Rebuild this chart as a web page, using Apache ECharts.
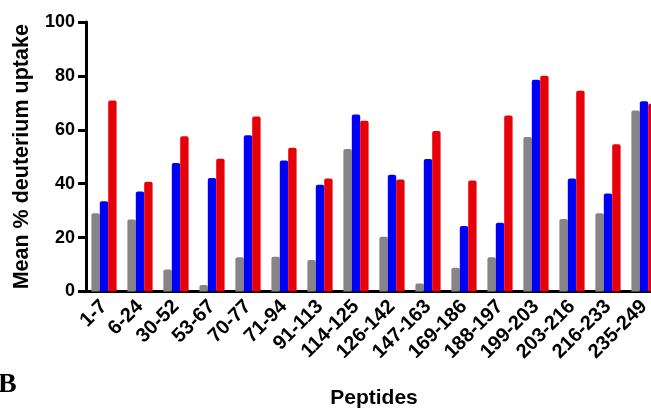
<!DOCTYPE html>
<html>
<head>
<meta charset="utf-8">
<script src="https://cdn.jsdelivr.net/npm/echarts@6/dist/echarts.min.js"></script>
<style>
  html, body { margin: 0; padding: 0; background: #fff; }
  #chart { width: 651px; height: 409px; }
</style>
</head>
<body>
<div id="chart"></div>
<script>
// Peptide segments along the x axis
const peptides = ['1-7', '6-24', '30-52', '53-67', '70-77', '71-94', '91-113', '114-125',
  '126-142', '147-163', '169-186', '188-197', '199-203', '203-216', '216-233', '235-249'];

// Mean % deuterium uptake for each condition
const uptakeGray = [29.0, 26.7, 8.2, 2.4, 12.7, 12.9, 11.7, 52.9, 20.3, 3.0, 8.8, 12.7, 57.3, 26.9, 29.0, 67.2];
const uptakeBlue = [33.5, 37.1, 47.7, 42.1, 58.0, 48.6, 39.6, 65.7, 43.3, 49.2, 24.3, 25.5, 78.6, 41.9, 36.4, 70.6];
const uptakeRed  = [70.9, 40.7, 57.6, 49.3, 64.9, 53.3, 41.9, 63.4, 41.6, 59.6, 41.2, 65.3, 80.1, 74.5, 54.6, 69.7];

// Y axis range and step
const yMin = 0, yMax = 100, yStep = 20;

const FONT = "'Liberation Sans', Arial, Helvetica, sans-serif";

const chart = echarts.init(document.getElementById('chart'), null, { renderer: 'canvas' });

function barSeries(name, data, color) {
  return {
    name: name,
    type: 'bar',
    data: data,
    barGap: '0%',
    barCategoryGap: '30%',
    itemStyle: { color: color, borderRadius: [2, 2, 0, 0] },
    emphasis: { disabled: true }
  };
}

chart.setOption({
  animation: false,
  title: {
    text: 'B',
    left: -7,
    top: 366,
    textStyle: { fontFamily: "'Liberation Serif', 'Times New Roman', serif", fontWeight: 'bold', fontSize: 28, color: '#000' }
  },
  // the plot area runs past the right edge, so the last group is cut off
  grid: { left: 86, right: -11, top: 22, bottom: 117.5, containLabel: false, outerBoundsMode: 'none' },
  xAxis: {
    type: 'category',
    data: peptides,
    name: 'Peptides',
    nameLocation: 'middle',
    nameGap: 96,
    nameTextStyle: { fontFamily: FONT, fontWeight: 'bold', fontSize: 21, color: '#000' },
    axisLine: { lineStyle: { color: '#000', width: 3 } },
    axisTick: { alignWithLabel: true, length: 8, lineStyle: { color: '#000', width: 3 } },
    axisLabel: { rotate: 45, margin: 12, interval: 0, fontFamily: FONT, fontWeight: 'bold', fontSize: 20, color: '#000' }
  },
  yAxis: {
    type: 'value',
    min: yMin,
    max: yMax,
    interval: yStep,
    name: 'Mean % deuterium uptake',
    nameLocation: 'middle',
    nameGap: 53,
    nameTextStyle: { fontFamily: FONT, fontWeight: 'bold', fontSize: 21.5, color: '#000' },
    splitLine: { show: false },
    axisLine: { show: true, lineStyle: { color: '#000', width: 3 } },
    axisTick: { show: true, length: 8, lineStyle: { color: '#000', width: 3 } },
    axisLabel: { margin: 11, fontFamily: FONT, fontWeight: 'bold', fontSize: 18, color: '#000' }
  },
  series: [
    barSeries('Gray', uptakeGray, '#858585'),
    barSeries('Blue', uptakeBlue, '#0000f5'),
    barSeries('Red', uptakeRed, '#e6000a')
  ]
});
</script>
</body>
</html>
